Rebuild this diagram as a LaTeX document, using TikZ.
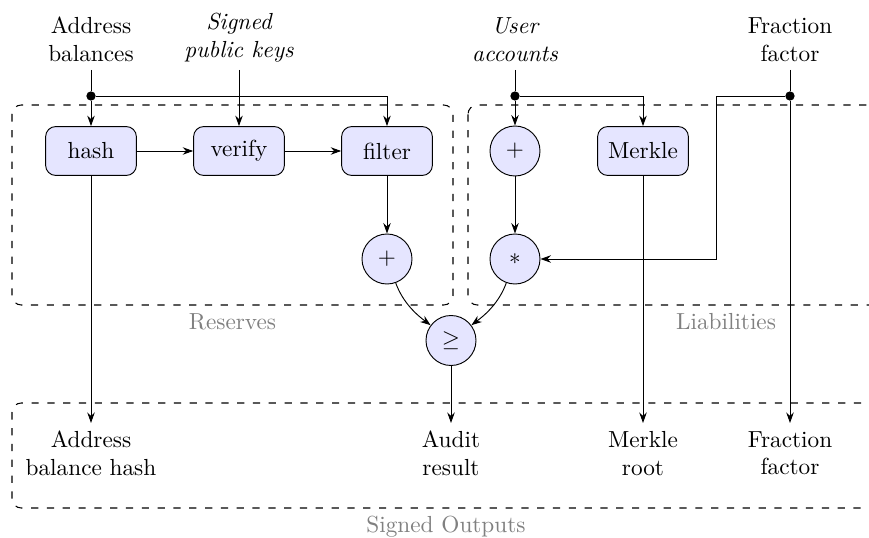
\documentclass[tikz,border=0pt]{standalone}
\usetikzlibrary{arrows.meta}
\begin{document}
\begin{tikzpicture}[x=0.43pt,y=-0.43pt,
  op/.style={draw, rounded corners=4.3pt, fill=blue!10, minimum width=39pt, minimum height=21pt},
  opc/.style={draw, circle, fill=blue!10, minimum size=21.5pt, inner sep=0pt},
  io/.style={align=center},
  grp/.style={draw, line width=0.45pt, dash pattern=on 3.1pt off 3.7pt, rounded corners=4pt},
  grplabel/.style={text=black!50, anchor=north},
  flow/.style={-{Stealth[length=4.5pt,width=3.2pt]}},
  junction/.style={circle, fill, inner sep=0pt, minimum size=4pt}]
\clip (0,0) rectangle (869,538);

% grouping frames
\draw[grp] (12,105) rectangle (453,305);
\node[grplabel] (resl) at (232.5,305) {Reserves};
\draw[grp] (468,105) rectangle (984,305);
\node[grplabel] (liabl) at (726,305) {Liabilities};
\draw[grp] (12,403) rectangle (880,508);
\node[grplabel] (outl) at (446,508) {Signed Outputs};

% inputs
\node[io, anchor=south] (inA) at (91,70) {Address\\balances};
\node[io, anchor=south, font=\itshape] (inK) at (239,70) {Signed\\public keys};
\node[io, anchor=south, font=\itshape] (inU) at (515,70) {User\\accounts};
\node[io, anchor=south] (inF) at (790,70) {Fraction\\factor};

% junctions
\node[junction] (jA) at (91,96) {};
\node[junction] (jU) at (515,96) {};
\node[junction] (jF) at (790,96) {};
\coordinate (fturn) at (716,96);

% operations
\node[op] (hash) at (91,151) {hash};
\node[op] (verify) at (239,151) {verify};
\node[op] (filter) at (387,151) {filter};
\node[opc] (sumR) at (387,259) {$+$};
\node[opc] (sumU) at (515,151) {$+$};
\node[op] (merkle) at (643,151) {Merkle};
\node[opc] (mul) at (515,259) {$*$};
\node[opc] (cmp) at (451,340.5) {$\geq$};

% outputs
\node[io, anchor=north] (outH) at (91,423) {Address\\balance hash};
\node[io, anchor=north] (outA) at (451,423) {Audit\\result};
\node[io, anchor=north] (outM) at (643,423) {Merkle\\root};
\node[io, anchor=north] (outF) at (790,423) {Fraction\\factor};

% reserves flow
\draw (inA) -- (jA);
\draw[flow] (jA) -- (hash);
\draw[flow] (jA) -| (filter);
\draw[flow] (inK) -- (verify);
\draw[flow] (hash) -- (verify);
\draw[flow] (verify) -- (filter);
\draw[flow] (filter) -- (sumR);
\draw[flow] (sumR) .. controls (403,303) and (417,315) .. (cmp);
\draw[flow] (hash) -- (outH);
\draw[flow] (cmp) -- (outA);

% liabilities flow
\draw (inU) -- (jU);
\draw[flow] (jU) -- (sumU);
\draw[flow] (jU) -| (merkle);
\draw[flow] (sumU) -- (mul);
\draw[flow] (mul) .. controls (499,303) and (485,315) .. (cmp);
\draw[flow] (merkle) -- (outM);
\draw (inF) -- (jF);
\draw[flow] (jF) -- (outF);
\draw[flow] (jF) -- (fturn) |- (mul);
\end{tikzpicture}
\end{document}
